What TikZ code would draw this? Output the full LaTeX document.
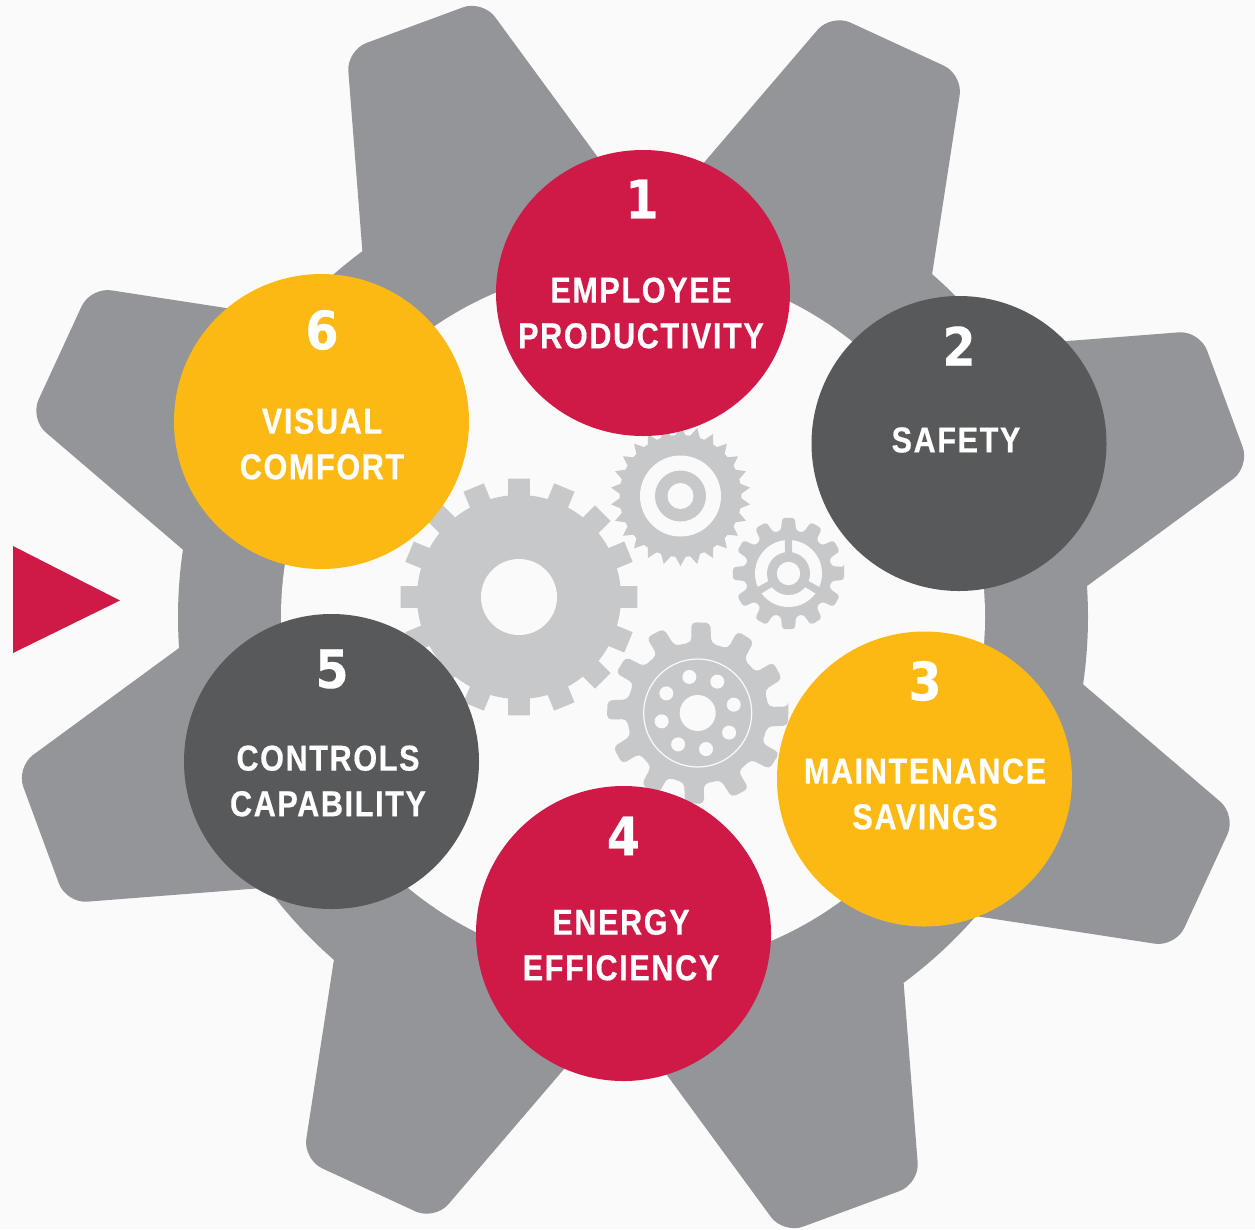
\documentclass[tikz,border=0pt]{standalone}
\usepackage{fontspec}
\usetikzlibrary{shapes.geometric}
\newfontfamily\lab[FakeStretch=0.85,LetterSpace=4.5,FakeBold=0.5]{Liberation Sans}
\newfontfamily\numf[FakeStretch=0.9,FakeBold=0.3]{DejaVu Sans}
\definecolor{bgc}{HTML}{FAFAFA}
\definecolor{gearc}{HTML}{939598}
\definecolor{lightc}{HTML}{C7C8CA}
\definecolor{crim}{HTML}{CF1A47}
\definecolor{dark}{HTML}{58595B}
\definecolor{amber}{HTML}{FDB913}
\tikzset{
  disc/.style={circle,minimum size=295,inner sep=0,outer sep=0,draw=none},
  lbl/.style={text=white,align=center,inner sep=0,font=\lab\bfseries\fontsize{36}{45.6}\selectfont},
  numl/.style={text=white,inner sep=0,font=\numf\bfseries\fontsize{53}{53}\selectfont},
  tip/.style={rounded corners=21}
}
\begin{document}
\begin{tikzpicture}[x=1pt,y=-1pt]
\fill[bgc] (0,0) rectangle (1255,1229);
\useasboundingbox (0,0) rectangle (1255,1229);
% large gear
\begin{scope}[shift={(633,617)}]
  \fill[gearc] (0,0) circle[radius=455];
  \foreach \k in {0,...,7}{
    \fill[gearc,tip] ({-(126.5-45*\k)}:455) -- ({-(116.8-45*\k)}:635) -- ({-(103.7-45*\k)}:635) -- ({-(93.9-45*\k)}:455);
  }
  \fill[bgc] (0,0) circle[radius=352];
\end{scope}
% gear A: big square teeth
\begin{scope}[shift={(519,597)}]
  \fill[lightc] (0,0) circle[radius=102];
  \foreach \k in {0,...,15}{
    \fill[lightc] ({22.5*\k-5.3}:119) -- ({22.5*\k+5.3}:119) -- ({22.5*\k+7}:90) -- ({22.5*\k-7}:90) -- cycle;
  }
  \fill[bgc] (0,0) circle[radius=38];
\end{scope}
% gear B: spiked
\begin{scope}[shift={(680.5,496)}]
  \fill[lightc] (0,0) circle[radius=61];
  \foreach \k in {0,...,25}{
    \fill[lightc] ({6.92+13.846*\k-5.4}:60) -- ({6.92+13.846*\k}:70) -- ({6.92+13.846*\k+5.4}:60) -- cycle;
  }
  \fill[bgc] (0,0) circle[radius=40.5];
  \fill[lightc] (0,0) circle[radius=25.5];
  \fill[bgc] (0,0) circle[radius=13];
\end{scope}
% gear C: three spokes
\begin{scope}[shift={(788.5,573.5)}]
  \fill[lightc,rounded corners=3] (-6.5:56)
    \foreach \k in {0,...,11}{ -- ({30*\k-6.5}:56) -- ({30*\k+6.5}:56) -- ({30*\k+10}:43.5) -- ({30*\k+20}:43.5) } -- cycle;
  \fill[bgc] (0,0) circle[radius=33.5];
  \fill[lightc] (0,0) circle[radius=21.5];
  \foreach \a in {-90,30,150}{
    \fill[lightc] ({\a-12}:16) -- ({\a+12}:16) -- ({\a+6}:36) -- ({\a-6}:36) -- cycle;
  }
  \fill[bgc] (0,0) circle[radius=11.7];
\end{scope}
% gear D: eight holes
\begin{scope}[shift={(697.7,713)}]
  \fill[lightc,rounded corners=4.5] (-4:91)
    \foreach \k in {0,...,11}{ -- ({30*\k-4}:91) -- ({30*\k+8}:91) -- ({30*\k+11}:71) -- ({30*\k+25}:71) } -- cycle;
  \draw[bgc,line width=1.2] (0,0) circle[radius=54];
  \fill[bgc] (0,0) circle[radius=18];
  \foreach \k in {0,...,7}{
    \fill[bgc] ({-13+45*\k}:37) circle[radius=7];
  }
\end{scope}
% marker
\fill[crim] (13,546) -- (120,600.5) -- (13,653) -- cycle;
% discs
\node[ellipse,minimum width=294,minimum height=286,inner sep=0,outer sep=0,fill=crim] (d1) at (643,293) {};
\node[disc,fill=dark] (d2) at (959,443.5) {};
\node[disc,fill=amber] (d3) at (924.5,779) {};
\node[disc,fill=crim] (d4) at (623.5,933.5) {};
\node[disc,fill=dark] (d5) at (331.5,761.5) {};
\node[disc,fill=amber] (d6) at (321.5,421.5) {};
% numbers
\node[numl] (n1) at (642,199) {1};
\node[numl] (n2) at (959,346) {2};
\node[numl] (n3) at (925,681) {3};
\node[numl] (n4) at (623.5,836) {4};
\node[numl] (n5) at (332,669) {5};
\node[numl] (n6) at (322,330) {6};
% labels
\node[lbl] (t1) at (641,313) {EMPLOYEE\\PRODUCTIVITY};
\node[lbl] (t2) at (956,440) {SAFETY};
\node[lbl] (t3) at (925,794) {MAINTENANCE\\SAVINGS};
\node[lbl] (t4) at (621,945) {ENERGY\\EFFICIENCY};
\node[lbl] (t5) at (328,781) {CONTROLS\\CAPABILITY};
\node[lbl] (t6) at (322,444) {VISUAL\\COMFORT};
\end{tikzpicture}
\end{document}
